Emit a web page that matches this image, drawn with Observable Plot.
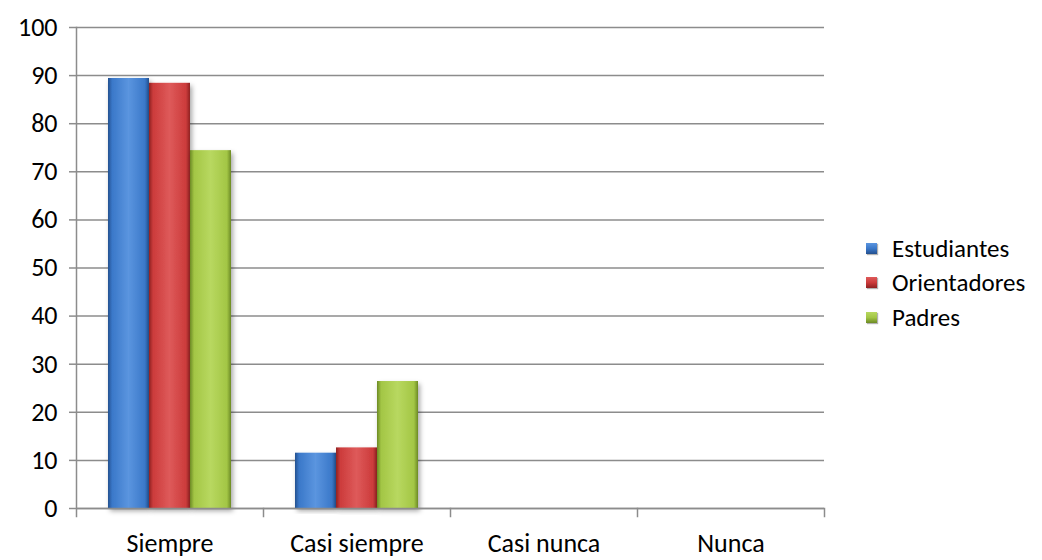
<!DOCTYPE html>
<html>
<head>
<meta charset="utf-8">
<script src="https://cdn.jsdelivr.net/npm/d3@7"></script>
<script src="https://cdn.jsdelivr.net/npm/@observablehq/plot@0.6"></script>
<style>
  html, body { margin: 0; padding: 0; background: #fff; }
  #wrap { position: relative; width: 1042px; height: 560px; font-family: Carlito, Calibri, "Liberation Sans Narrow", "Liberation Sans", sans-serif; }
  #legend { position: absolute; left: 866px; top: 231px; font-size: 25px; color: #000; z-index: 2; }
  #legend .item { display: flex; align-items: center; height: 34.5px; }
  #legend .sw { width: 11px; height: 11px; margin-right: 15px; }
</style>
</head>
<body>
<div id="wrap"><div id="legend"></div></div>
<script>
const categories = ["Siempre", "Casi siempre", "Casi nunca", "Nunca"];
const series = ["Estudiantes", "Orientadores", "Padres"];
const estudiantes = [89.4, 11.5, 0, 0];
const orientadores = [88.4, 12.6, 0, 0];
const padres = [74.4, 26.4, 0, 0];
const yTicks = [0, 10, 20, 30, 40, 50, 60, 70, 80, 90, 100];

const baseColors = ["#3a78c9", "#cc3b3b", "#a3c645"];
const darkColors = ["#23508f", "#8f2222", "#6c8a24"];
const lightColors = ["#5b95df", "#de5a5a", "#b8d860"];

const values = [estudiantes, orientadores, padres];
const data = [];
categories.forEach((c, i) => series.forEach((s, j) => {
  data.push({category: c, series: s, value: values[j][i]});
}));

const innerH = 560 - 27 - 52;
const grey = "#8c8c8c";
const fontFamily = "Carlito, Calibri, 'Liberation Sans Narrow', 'Liberation Sans', sans-serif";

const chart = Plot.plot({
  width: 1042,
  height: 560,
  marginLeft: 75,
  marginRight: 217,
  marginTop: 27,
  marginBottom: 52,
  style: {fontFamily, fontSize: "26px", color: "#000", background: "transparent", overflow: "visible"},
  fx: {domain: categories, padding: 0, label: null},
  x: {domain: series, paddingInner: 0, paddingOuter: 0.73, axis: null},
  y: {domain: [0, 100], label: null},
  color: {domain: series, range: series.map((s, j) => `url(#grad${j})`)},
  marks: [
    Plot.gridY(yTicks, {stroke: grey, strokeOpacity: 1, strokeWidth: 1.5}),
    Plot.axisY(yTicks, {tickSize: 7, tickPadding: 12, stroke: grey, strokeWidth: 1.5, fill: "#000", fontSize: 26, label: null}),
    Plot.axisFx({anchor: "bottom", tickSize: 0, tickPadding: 25, fontSize: 26, label: null, fill: "#000"}),
    Plot.frame({anchor: "left", facetAnchor: "left", stroke: grey, strokeWidth: 1.5, insetBottom: -8}),
    Plot.frame({anchor: "right", stroke: grey, strokeWidth: 1.5, insetTop: innerH, insetBottom: -8}),
    Plot.barY(data, {fx: "category", x: "series", y: "value", fill: "series"}),
    Plot.ruleY([0], {stroke: grey, strokeWidth: 1.5})
  ]
});

// gradients and shadow
const svg = d3.select(chart);
const defs = svg.insert("defs", ":first-child");
series.forEach((s, j) => {
  const g = defs.append("linearGradient").attr("id", `grad${j}`).attr("x1", 0).attr("x2", 1).attr("y1", 0).attr("y2", 0);
  g.append("stop").attr("offset", "0%").attr("stop-color", darkColors[j]);
  g.append("stop").attr("offset", "10%").attr("stop-color", baseColors[j]);
  g.append("stop").attr("offset", "50%").attr("stop-color", lightColors[j]);
  g.append("stop").attr("offset", "90%").attr("stop-color", baseColors[j]);
  g.append("stop").attr("offset", "100%").attr("stop-color", darkColors[j]);
});
const f = defs.append("filter").attr("id", "shadow").attr("x", "-20%").attr("y", "-5%").attr("width", "150%").attr("height", "115%");
f.append("feDropShadow").attr("dx", 2).attr("dy", 3).attr("stdDeviation", 2.5).attr("flood-color", "#000").attr("flood-opacity", 0.35);
svg.selectAll("g[aria-label='bar'] rect").attr("filter", "url(#shadow)");

document.getElementById("wrap").appendChild(chart);
chart.style.position = "absolute";
chart.style.left = "0";
chart.style.top = "0";

// legend (HTML)
const legend = d3.select("#legend");
series.forEach((s, j) => {
  const item = legend.append("div").attr("class", "item");
  item.append("div").attr("class", "sw")
    .style("background", `linear-gradient(to bottom, ${lightColors[j]}, ${baseColors[j]} 50%, ${darkColors[j]})`)
    .style("box-shadow", "1px 1px 1px rgba(0,0,0,0.3)");
  item.append("span").text(s);
});
</script>
</body>
</html>
